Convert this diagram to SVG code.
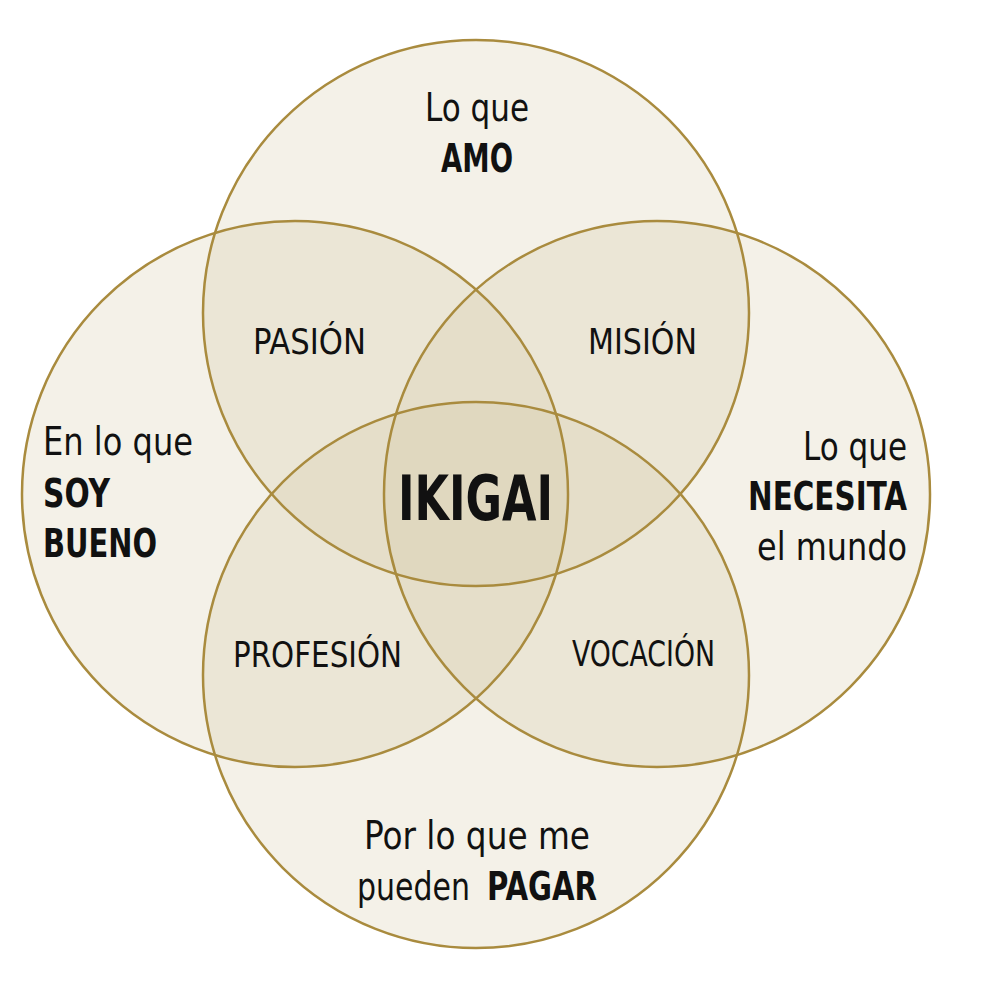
<svg xmlns="http://www.w3.org/2000/svg" width="1002" height="1004" viewBox="0 0 1002 1004">
  <style>
    .fill { fill: #d2c49e; fill-opacity: 0.24; stroke: none; }
    .ring { fill: none; stroke: #a98b3e; stroke-width: 2.5; }
    text { font-family: "DejaVu Sans Condensed", "DejaVu Sans", sans-serif; fill: #111111; }
    .reg { font-size: 39px; font-weight: normal; }
    .bold { font-size: 39px; font-weight: bold; }
    .inner { font-size: 36px; font-weight: normal; }
    .center { font-size: 62px; font-weight: bold; }
  </style>
  <rect width="1002" height="1004" fill="#ffffff"/>
  <g id="fills">
    <circle class="fill" cx="476" cy="313" r="273"/>
    <circle class="fill" cx="295" cy="494" r="273"/>
    <circle class="fill" cx="657" cy="494" r="273"/>
    <circle class="fill" cx="476" cy="675" r="273"/>
  </g>
  <g id="node-amo">
    <circle class="ring" cx="476" cy="313" r="273"/>
    <text class="reg" x="425" y="121" textLength="104" lengthAdjust="spacingAndGlyphs">Lo que</text>
    <text class="bold" x="441" y="172" textLength="72" lengthAdjust="spacingAndGlyphs">AMO</text>
  </g>
  <g id="node-bueno">
    <circle class="ring" cx="295" cy="494" r="273"/>
    <text class="reg" x="43" y="455" textLength="150" lengthAdjust="spacingAndGlyphs">En lo que</text>
    <text class="bold" x="43" y="507" textLength="67" lengthAdjust="spacingAndGlyphs">SOY</text>
    <text class="bold" x="43" y="557" textLength="114" lengthAdjust="spacingAndGlyphs">BUENO</text>
  </g>
  <g id="node-mundo">
    <circle class="ring" cx="657" cy="494" r="273"/>
    <text class="reg" x="803" y="460" textLength="104" lengthAdjust="spacingAndGlyphs">Lo que</text>
    <text class="bold" x="748" y="510" textLength="159" lengthAdjust="spacingAndGlyphs">NECESITA</text>
    <text class="reg" x="757" y="560" textLength="150" lengthAdjust="spacingAndGlyphs">el mundo</text>
  </g>
  <g id="node-pagar">
    <circle class="ring" cx="476" cy="675" r="273"/>
    <text class="reg" x="364" y="849" textLength="226" lengthAdjust="spacingAndGlyphs">Por lo que me</text>
    <text class="reg" x="357" y="900" textLength="113" lengthAdjust="spacingAndGlyphs">pueden</text>
    <text class="bold" x="487" y="900" textLength="110" lengthAdjust="spacingAndGlyphs">PAGAR</text>
  </g>
  <g id="node-pasion">
    <text class="inner" x="253" y="354" textLength="113" lengthAdjust="spacingAndGlyphs">PASIÓN</text>
  </g>
  <g id="node-mision">
    <text class="inner" x="588" y="354" textLength="109" lengthAdjust="spacingAndGlyphs">MISIÓN</text>
  </g>
  <g id="node-profesion">
    <text class="inner" x="233" y="667" textLength="169" lengthAdjust="spacingAndGlyphs">PROFESIÓN</text>
  </g>
  <g id="node-vocacion">
    <text class="inner" x="572" y="666" textLength="143" lengthAdjust="spacingAndGlyphs">VOCACIÓN</text>
  </g>
  <g id="node-ikigai">
    <text class="center" x="398" y="520" textLength="155" lengthAdjust="spacingAndGlyphs">IKIGAI</text>
  </g>
  <g id="connectors"></g>
</svg>
